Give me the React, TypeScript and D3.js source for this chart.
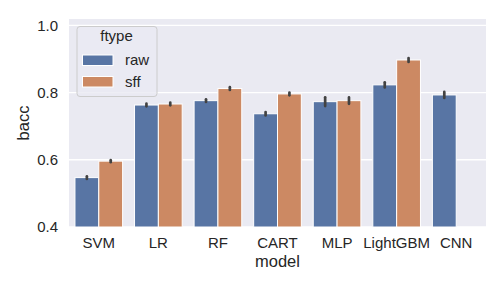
import React from "react";
import * as d3 from "d3";

const models = ["SVM", "LR", "RF", "CART", "MLP", "LightGBM", "CNN"];
const ftypes = ["raw", "sff"];
const rawValues = [0.547, 0.763, 0.776, 0.737, 0.773, 0.823, 0.793];
const rawErr = [0.004, 0.004, 0.004, 0.005, 0.013, 0.0075, 0.009];
const sffValues: (number | null)[] = [0.596, 0.766, 0.812, 0.796, 0.776, 0.897, null];
const sffErr = [0.003, 0.004, 0.004, 0.004, 0.0095, 0.006, 0];
const yTicks = [0.4, 0.6, 0.8, 1.0];
const colors = ["#5875a4", "#cc8963"];

const W = 504, H = 288;
const L = 69, R = 486, T = 19, B = 227;

export default function App() {
  const x = d3.scaleBand().domain(models).range([L, R]).paddingInner(0).paddingOuter(0);
  const y = d3.scaleLinear().domain([0.4, 1.019]).range([B, T]);
  const bw = x.bandwidth() * 0.8;
  const sub = d3.scaleBand().domain(ftypes).range([0, bw]);
  const font = "'Liberation Sans', Arial, sans-serif";

  const series = [
    { name: "raw", vals: rawValues as (number | null)[], errs: rawErr },
    { name: "sff", vals: sffValues, errs: sffErr },
  ];

  return (
    <svg width={W} height={H} style={{ display: "block", position: "absolute", left: 0, top: 0 }} fontFamily={font}>
      <rect x={0} y={0} width={W} height={H} fill="white" />
      <rect x={L} y={T} width={R - L} height={B - T} fill="#eaeaf2" />
      {yTicks.map((t) => (
        <line key={t} x1={L} x2={R} y1={y(t)} y2={y(t)} stroke="white" strokeWidth={1.4} />
      ))}
      {models.map((m) => (
        <line key={m} x1={x(m)! + x.bandwidth() / 2} x2={x(m)! + x.bandwidth() / 2} y1={T} y2={B} stroke="white" strokeWidth={0} />
      ))}
      {series.map((s, si) =>
        models.map((m, i) => {
          const v = s.vals[i];
          if (v == null) return null;
          const x0 = x(m)! + x.bandwidth() * 0.1 + sub(s.name)!;
          return (
            <g key={s.name + m}>
              <rect x={x0} y={y(v)} width={sub.bandwidth()} height={B - y(v)} fill={colors[si]} stroke="white" strokeWidth={1} />
              <line
                x1={x0 + sub.bandwidth() / 2}
                x2={x0 + sub.bandwidth() / 2}
                y1={y(v - s.errs[i])}
                y2={y(v + s.errs[i])}
                stroke="#424242"
                strokeWidth={2.7}
                strokeLinecap="round"
              />
            </g>
          );
        })
      )}
      {yTicks.map((t) => (
        <text key={t} x={58} y={y(t)} dy="0.35em" textAnchor="end" fontSize={15} fill="#262626">
          {t.toFixed(1)}
        </text>
      ))}
      {models.map((m) => (
        <text key={m} x={x(m)! + x.bandwidth() / 2} y={247.5} textAnchor="middle" fontSize={15} fill="#262626">
          {m}
        </text>
      ))}
      <text x={(L + R) / 2} y={267} textAnchor="middle" fontSize={16.5} fill="#262626">model</text>
      <text transform={`translate(29,${(T + B) / 2}) rotate(-90)`} textAnchor="middle" fontSize={16.5} fill="#262626">bacc</text>
      <g>
        <rect x={77} y={26.5} width={80} height={70} rx={3} fill="#eaeaf2" fillOpacity={0.8} stroke="#cccccc" strokeWidth={1} />
        <text x={116.5} y={41} textAnchor="middle" fontSize={15} fill="#262626">ftype</text>
        {ftypes.map((f, i) => (
          <g key={f}>
            <rect x={82.5} y={55 + i * 21.5} width={30.5} height={10.5} fill={colors[i]} stroke="white" strokeWidth={1} />
            <text x={125} y={65 + i * 21.5} fontSize={15} fill="#262626">{f}</text>
          </g>
        ))}
      </g>
    </svg>
  );
}
